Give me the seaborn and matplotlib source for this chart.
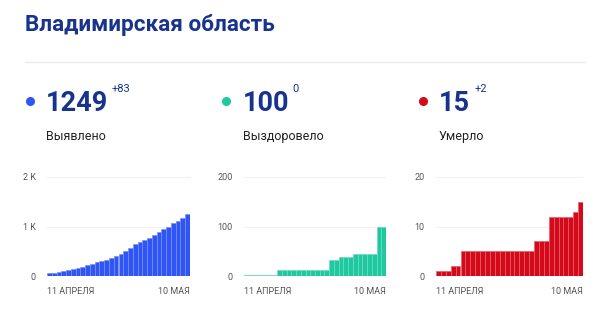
import matplotlib
matplotlib.use("Agg")
import matplotlib.pyplot as plt
from matplotlib.lines import Line2D
from matplotlib.colors import to_rgb
import seaborn as sns
import pandas as pd

sns.set_theme(style="white")
plt.rcParams['font.family'] = ['Roboto', 'DejaVu Sans']

title = "Владимирская область"
x_labels = ["11 АПРЕЛЯ", "10 МАЯ"]

confirmed = [55, 70, 90, 100, 130, 150, 170, 190, 215, 240, 280, 300, 320, 360, 410,
             450, 510, 570, 640, 680, 720, 770, 830, 890, 950, 1000, 1070, 1110, 1166, 1249]
recovered = [2]*7 + [12]*11 + [33]*2 + [38]*3 + [44]*5 + [100]*2
deaths = [1, 1, 1, 2, 2] + [5]*15 + [7]*3 + [12]*5 + [13, 15]

panels = [
    dict(name="Выявлено", total="1249", delta="+83", values=confirmed, color="#2f55f5",
         yticks=[0, 1000, 2000], ylabels=["0", "1 K", "2 K"]),
    dict(name="Выздоровело", total="100", delta="0", values=recovered, color="#1ec9a0",
         yticks=[0, 100, 200], ylabels=["0", "100", "200"]),
    dict(name="Умерло", total="15", delta="+2", values=deaths, color="#d40a1a",
         yticks=[0, 10, 20], ylabels=["0", "10", "20"]),
]

W, H = 605, 313
fig = plt.figure(figsize=(W/100, H/100), dpi=100)
fig.patch.set_facecolor("white")

def fx(x):
    return x / W

def fy(y):
    return 1 - y / H

def lighten(c, f):
    r, g, b = to_rgb(c)
    return (r + (1 - r) * f, g + (1 - g) * f, b + (1 - b) * f)

navy = "#17338f"
fig.text(fx(25), fy(31), title, fontsize=16.2, fontweight="bold", color=navy, va="baseline", ha="left")
fig.add_artist(Line2D([fx(25), fx(585)], [fy(62), fy(62)], color="#ebebeb", lw=1, transform=fig.transFigure))

layout = [
    dict(dot=30, text=46, sup=112, ax_l=47, ax_r=190),
    dict(dot=226, text=243, sup=292, ax_l=244, ax_r=386),
    dict(dot=423, text=439, sup=475, ax_l=436, ax_r=583),
]

ax_top, ax_bot = 177, 276

for p, L in zip(panels, layout):
    fig.add_artist(Line2D([fx(L["dot"])], [fy(101)], marker="o", markersize=5.5,
                          color=p["color"], transform=fig.transFigure))
    fig.text(fx(L["text"]), fy(111), p["total"], fontsize=19.5, fontweight="bold",
             color=navy, va="baseline", ha="left")
    fig.text(fx(L["sup"]), fy(92), p["delta"], fontsize=8, color=navy, va="baseline", ha="left")
    fig.text(fx(L["text"]), fy(140), p["name"], fontsize=9, color="#222222", va="baseline", ha="left")

    ax = fig.add_axes([fx(L["ax_l"]), fy(ax_bot), (L["ax_r"] - L["ax_l"]) / W, (ax_bot - ax_top) / H])
    df = pd.DataFrame({"day": list(range(len(p["values"]))), "value": p["values"]})
    sns.barplot(data=df, x="day", y="value", color=p["color"], saturation=1, width=1.0,
                edgecolor=lighten(p["color"], 0.35), linewidth=0.5, ax=ax)
    n = len(p["values"])
    ax.set_xlim(-0.5, n - 0.5)
    ax.set_ylim(0, p["yticks"][-1])
    for s in ax.spines.values():
        s.set_visible(False)
    for t in p["yticks"][1:]:
        ax.axhline(t, color="#f0f0f0", lw=0.8, zorder=0, clip_on=False)
    ax.set_yticks(p["yticks"])
    ax.set_yticklabels(p["ylabels"], fontsize=6.5, color="#555555")
    ax.set_xticks([-0.5, n - 0.5])
    ax.set_xticklabels(x_labels, fontsize=6.5, color="#555555")
    xl = ax.get_xticklabels()
    xl[0].set_ha("left")
    xl[1].set_ha("right")
    ax.tick_params(axis="both", length=0)
    ax.tick_params(axis="y", pad=8)
    ax.tick_params(axis="x", pad=8)
    ax.set_xlabel("")
    ax.set_ylabel("")
    ax.set_facecolor("white")

fig.savefig("out.png", dpi=100, facecolor="white")
